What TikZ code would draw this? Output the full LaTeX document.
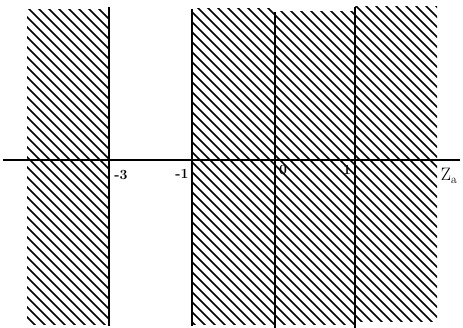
\documentclass[tikz,border=0pt]{standalone}
\newcommand\myhatchbox[4]{%
  \begin{scope}
    \clip (#1,#2) rectangle (#3,#4);
    \foreach \k in {-400,-390,...,500} \draw[hatch] (\k,0) -- ++(400,400);
  \end{scope}}
\begin{document}
\begin{tikzpicture}[x=1pt,y=-1pt,
  hatch/.style={line width=1.7pt},
  edge/.style={line width=1.7pt},
  axis/.style={line width=1.3pt},
  lbl/.style={font=\fontsize{14}{14}\selectfont\bfseries, inner sep=1pt},
  zlbl/.style={font=\fontsize{18}{18}\selectfont, inner sep=1pt}]
\useasboundingbox (0,0) rectangle (463,328);
% hatched regions
\myhatchbox{27}{10}{109}{325}
\myhatchbox{192}{9}{275}{325}
\myhatchbox{275}{12}{355}{325}
\myhatchbox{355}{7}{437}{322}
% vertical boundaries
\coordinate (v1t) at (109,7);   \coordinate (v1b) at (109,326);
\coordinate (v2t) at (192,9);   \coordinate (v2b) at (192,326);
\coordinate (v3t) at (275,12);  \coordinate (v3b) at (275,328);
\coordinate (v4t) at (355,7);   \coordinate (v4b) at (355,328);
\draw[edge] (v1t) -- (v1b);
\draw[edge] (v2t) -- (v2b);
\draw[edge] (v3t) -- (v3b);
\draw[edge] (v4t) -- (v4b);
% axis
\coordinate (axl) at (3,160);
\coordinate (axr) at (460,160);
\draw[axis] (axl) -- (axr);
% labels
\node[lbl] (lm3) at (121,175) {-3};
\node[lbl] (lm1) at (182,174) {-1};
\node[lbl] (l0) at (283,170) {0};
\node[lbl] (l1) at (347,170) {1};
\node[zlbl] (lz) at (449,176) {Z$_{\mathrm{a}}$};
\end{tikzpicture}
\end{document}
